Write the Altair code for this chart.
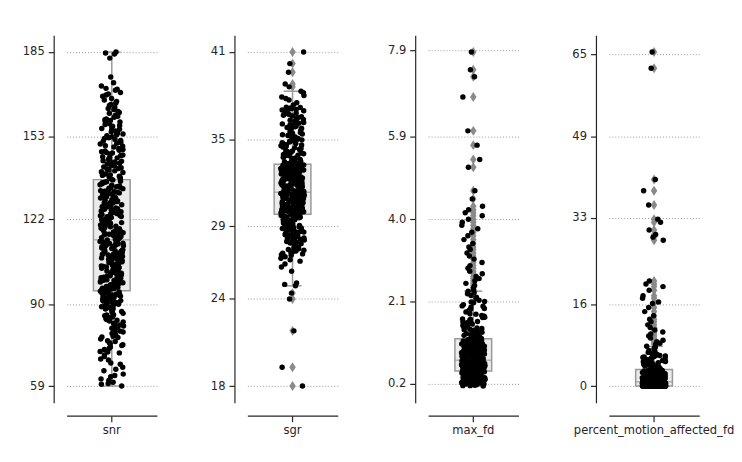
"""Box + strip plot delle metriche di qualità, un pannello per metrica."""

import altair as alt
import pandas as pd

# Valori (stime per punto)
SNR = [
    59.1, 59.8, 60.5, 61.2, 62.6, 63.1, 64.9, 65.4, 67.8, 69.3,
    70.2, 71.6, 72.1, 72.9, 73.8, 74.4, 75.0, 75.9, 76.2, 77.4,
    77.9, 78.6, 79.3, 79.8, 80.4, 80.9, 81.7, 82.1, 82.8, 83.3,
    83.9, 84.2, 84.9, 85.6, 86.0, 86.5, 87.2, 87.7, 88.1, 88.6,
    89.0, 89.5, 89.9, 90.2, 90.5, 90.7, 90.9, 91.1, 91.4, 91.6,
    91.8, 92.0, 92.3, 92.5, 92.8, 93.2, 93.5, 93.7, 93.9, 94.0,
    94.2, 94.6, 94.8, 95.1, 95.4, 95.9, 96.3, 96.5, 96.8, 97.1,
    97.4, 97.8, 98.0, 98.6, 98.9, 99.0, 99.3, 99.5, 99.9, 100.4,
    100.7, 101.1, 101.3, 101.6, 101.9, 102.2, 102.8, 103.1, 103.5, 103.8,
    104.2, 104.6, 104.9, 105.2, 105.5, 105.9, 106.1, 106.3, 106.6, 107.0,
    107.4, 107.7, 107.9, 108.1, 108.3, 108.5, 108.8, 109.2, 109.4, 109.9,
    110.1, 110.3, 110.5, 110.9, 111.2, 111.4, 111.6, 111.9, 112.0, 112.3,
    112.6, 112.9, 113.3, 113.6, 113.9, 114.2, 114.6, 115.0, 115.3, 115.8,
    116.1, 116.5, 116.9, 117.2, 117.4, 117.7, 118.0, 118.4, 118.8, 119.1,
    119.6, 119.9, 120.3, 120.7, 121.0, 121.5, 121.8, 122.2, 122.6, 123.0,
    123.3, 123.8, 124.1, 124.5, 124.8, 125.1, 125.5, 125.9, 126.2, 126.7,
    127.0, 127.4, 127.8, 128.1, 128.4, 128.6, 128.9, 129.3, 129.7, 130.0,
    130.4, 130.8, 131.2, 131.5, 131.7, 131.9, 132.3, 132.7, 133.0, 133.5,
    133.8, 134.2, 134.5, 135.0, 135.3, 135.7, 136.1, 136.8, 137.3, 137.9,
    138.2, 138.7, 139.3, 139.6, 140.2, 140.8, 141.1, 141.7, 142.2, 142.5,
    143.1, 143.3, 143.6, 144.0, 144.6, 145.1, 145.5, 146.2, 146.6, 147.1,
    147.7, 148.0, 148.6, 149.2, 149.7, 150.3, 150.9, 151.4, 152.0, 152.7,
    153.1, 153.8, 154.4, 154.9, 155.6, 156.2, 156.8, 157.3, 158.0, 158.6,
    159.2, 159.8, 160.4, 161.2, 161.9, 162.6, 163.3, 164.1, 164.8, 165.7,
    166.4, 167.5, 168.3, 169.2, 170.6, 171.3, 172.2, 175.6, 182.7, 184.6,
    185.0,
    60.1, 61.8, 63.6, 66.2, 67.3, 68.9, 70.8, 71.9, 73.3, 74.7,
    75.4, 76.8, 77.6, 78.9, 79.5, 80.6, 81.2, 82.5, 83.6, 84.5,
    85.1, 85.9, 86.8, 87.5, 88.3, 89.2, 89.7, 90.4, 90.8, 91.3,
    91.9, 92.2, 92.6, 93.0, 93.4, 94.1, 94.4, 94.9, 95.3, 95.7,
    96.0, 96.6, 97.2, 97.6, 98.3, 98.7, 99.2, 99.7, 100.1, 100.6,
    101.0, 101.5, 102.0, 102.5, 103.0, 103.4, 104.0, 104.4, 105.0, 105.7,
    106.4, 106.9, 107.6, 108.0, 108.7, 109.1, 109.6, 110.0, 110.7, 111.1,
    111.8, 112.2, 112.8, 113.1, 113.5, 113.8, 114.4, 114.9, 115.5, 116.3,
    116.7, 117.5, 118.2, 118.6, 119.3, 119.8, 120.5, 121.2, 121.7, 122.4,
    122.9, 123.5, 124.0, 124.6, 125.3, 125.7, 126.4, 126.9, 127.6, 128.3,
    129.1, 129.5, 130.2, 130.6, 131.4, 132.1, 132.5, 133.2, 133.7, 134.0,
    134.8, 135.5, 135.9, 136.3, 137.0, 137.6, 138.5, 139.0, 139.9, 140.5,
    141.4, 142.0, 142.8, 143.8, 144.3, 145.3, 146.0, 146.9, 147.4, 148.3,
    149.5, 150.6, 151.7, 152.4, 153.4, 154.1, 155.2, 155.9, 157.0, 157.7,
    158.9, 159.5, 160.8, 162.2, 163.7, 165.2, 166.9, 168.8, 169.7, 171.0,
    173.4, 184.2,
]

SGR = [
    18.0, 19.3, 21.8, 24.0, 24.4, 24.9, 25.0, 25.1, 25.9, 26.2,
    26.4, 26.6, 26.8, 26.9, 27.0, 27.1, 27.2, 27.3, 27.4, 27.45,
    27.5, 27.6, 27.7, 27.8, 27.9, 28.0, 28.05, 28.1, 28.15, 28.2,
    28.3, 28.35, 28.4, 28.5, 28.55, 28.6, 28.65, 28.7, 28.75, 28.8,
    28.85, 28.9, 28.95, 29.0, 29.05, 29.1, 29.15, 29.2, 29.22, 29.3,
    29.35, 29.4, 29.42, 29.45, 29.5, 29.55, 29.58, 29.6, 29.63, 29.66,
    29.7, 29.72, 29.75, 29.78, 29.8, 29.82, 29.84, 29.87, 29.9, 29.92,
    29.95, 29.97, 30.0, 30.03, 30.05, 30.07, 30.1, 30.12, 30.15, 30.17,
    30.2, 30.22, 30.25, 30.28, 30.3, 30.33, 30.35, 30.38, 30.4, 30.43,
    30.45, 30.47, 30.5, 30.52, 30.55, 30.57, 30.6, 30.63, 30.65, 30.68,
    30.7, 30.72, 30.75, 30.78, 30.8, 30.82, 30.85, 30.87, 30.9, 30.93,
    30.95, 30.97, 31.0, 31.02, 31.04, 31.07, 31.1, 31.12, 31.14, 31.17,
    31.2, 31.22, 31.24, 31.26, 31.28, 31.29, 31.3, 31.3, 31.31, 31.32,
    31.35, 31.38, 31.4, 31.43, 31.46, 31.5, 31.52, 31.55, 31.58, 31.6,
    31.64, 31.67, 31.7, 31.73, 31.76, 31.8, 31.83, 31.86, 31.9, 31.93,
    31.96, 32.0, 32.03, 32.06, 32.1, 32.13, 32.16, 32.2, 32.23, 32.26,
    32.3, 32.33, 32.36, 32.4, 32.43, 32.46, 32.5, 32.53, 32.56, 32.6,
    32.63, 32.66, 32.7, 32.72, 32.75, 32.78, 32.8, 32.83, 32.86, 32.88,
    32.9, 32.93, 32.95, 32.98, 33.0, 33.03, 33.05, 33.08, 33.1, 33.13,
    33.15, 33.18, 33.2, 33.22, 33.25, 33.3, 33.4, 33.45, 33.5, 33.55,
    33.6, 33.65, 33.7, 33.8, 33.85, 33.9, 33.95, 34.0, 34.1, 34.15,
    34.2, 34.25, 34.3, 34.4, 34.5, 34.55, 34.6, 34.65, 34.7, 34.8,
    34.9, 35.0, 35.05, 35.1, 35.2, 35.3, 35.4, 35.45, 35.5, 35.6,
    35.7, 35.8, 35.85, 35.9, 36.0, 36.1, 36.2, 36.25, 36.3, 36.4,
    36.5, 36.6, 36.65, 36.7, 36.8, 36.9, 37.0, 37.1, 37.15, 37.2,
    37.5, 37.7, 37.9, 38.0, 38.2, 38.3, 38.6, 38.8, 39.6, 40.2,
    41.0,
    26.7, 27.05, 27.15, 27.25, 27.35, 27.55, 27.65, 27.75, 27.85, 27.95,
    28.02, 28.12, 28.22, 28.27, 28.32, 28.42, 28.47, 28.58, 28.62, 28.68,
    28.72, 28.78, 28.82, 28.88, 28.92, 28.98, 29.08, 29.18, 29.28, 29.38,
    29.48, 29.65, 29.83, 29.88, 29.94, 29.99, 30.04, 30.09, 30.14, 30.19,
    30.24, 30.29, 30.34, 30.39, 30.44, 30.49, 30.54, 30.59, 30.64, 30.69,
    30.74, 30.79, 30.84, 30.89, 30.94, 30.99, 31.03, 31.06, 31.09, 31.13,
    31.16, 31.19, 31.23, 31.27, 31.29, 31.36, 31.42, 31.48, 31.54, 31.62,
    31.68, 31.75, 31.82, 31.88, 31.95, 32.02, 32.08, 32.15, 32.21, 32.28,
    32.35, 32.41, 32.48, 32.55, 32.62, 32.68, 32.74, 32.79, 32.85, 32.91,
    32.96, 33.01, 33.06, 33.11, 33.16, 33.19, 33.21, 33.24, 33.35, 33.48,
    33.62, 33.75, 33.88, 34.05, 34.18, 34.35, 34.45, 34.62, 34.75, 34.85,
    34.95, 35.15, 35.25, 35.35, 35.55, 35.65, 35.75, 35.95, 36.05, 36.15,
    36.35, 36.45, 36.55, 36.75, 36.85, 36.95, 37.05, 37.18, 37.35, 37.8,
]

MAX_FD = [
    0.15, 0.16, 0.17, 0.18, 0.19, 0.19, 0.2, 0.2, 0.21, 0.21,
    0.22, 0.22, 0.23, 0.23, 0.24, 0.24, 0.25, 0.26, 0.26, 0.27,
    0.27, 0.28, 0.28, 0.29, 0.29, 0.3, 0.3, 0.31, 0.31, 0.32,
    0.32, 0.33, 0.33, 0.33, 0.34, 0.34, 0.35, 0.35, 0.36, 0.36,
    0.36, 0.37, 0.37, 0.38, 0.38, 0.38, 0.39, 0.39, 0.4, 0.4,
    0.41, 0.41, 0.41, 0.42, 0.42, 0.42, 0.43, 0.43, 0.43, 0.44,
    0.44, 0.44, 0.45, 0.45, 0.45, 0.46, 0.46, 0.46, 0.47, 0.47,
    0.47, 0.47, 0.48, 0.48, 0.48, 0.49, 0.49, 0.49,
    0.5, 0.5, 0.5, 0.51, 0.51, 0.51, 0.52, 0.52, 0.52, 0.52,
    0.53, 0.53, 0.53, 0.54, 0.54, 0.54, 0.55, 0.55, 0.55, 0.56,
    0.56, 0.56, 0.57, 0.57, 0.57, 0.58, 0.58, 0.58, 0.59, 0.59,
    0.59, 0.6, 0.6, 0.6, 0.6, 0.61, 0.61, 0.61, 0.62, 0.62,
    0.62, 0.63, 0.63, 0.63, 0.64, 0.64, 0.64, 0.65, 0.65, 0.65,
    0.66, 0.66, 0.66, 0.66, 0.67, 0.67, 0.67, 0.68, 0.68, 0.68,
    0.69, 0.69, 0.69, 0.7, 0.7, 0.7, 0.71, 0.71, 0.71, 0.72,
    0.72, 0.72, 0.73, 0.73, 0.73, 0.73, 0.74, 0.74,
    0.75, 0.76, 0.76, 0.77, 0.77, 0.78, 0.79, 0.79, 0.8, 0.81,
    0.81, 0.82, 0.83, 0.83, 0.84, 0.84, 0.85, 0.85, 0.86, 0.87,
    0.87, 0.88, 0.89, 0.89, 0.9, 0.9, 0.91, 0.92, 0.92, 0.93,
    0.93, 0.94, 0.95, 0.95, 0.96, 0.97, 0.97, 0.98, 0.99, 0.99,
    1.0, 1.0, 1.01, 1.01, 1.02, 1.03, 1.03, 1.04, 1.05, 1.05,
    1.06, 1.07, 1.07, 1.08, 1.09, 1.09, 1.1, 1.11, 1.11, 1.12,
    1.13, 1.13, 1.14, 1.15, 1.15, 1.16, 1.17, 1.17, 1.18, 1.19,
    1.19, 1.2, 1.21, 1.21, 1.22, 1.22, 1.23, 1.24,
    1.26, 1.29, 1.31, 1.33, 1.34, 1.37, 1.4, 1.43, 1.45, 1.46,
    1.49, 1.52, 1.55, 1.58, 1.6, 1.61, 1.64, 1.67, 1.7, 1.74,
    1.76, 1.78, 1.82, 1.86, 1.9, 1.92, 1.94, 1.97, 2.0, 2.03,
    2.07, 2.1, 2.13, 2.17, 2.2, 2.24, 2.28, 2.31, 2.34, 2.37,
    2.42, 2.47, 2.52, 2.58, 2.63, 2.68, 2.74, 2.8, 2.87, 2.93,
    3.0, 3.08, 3.15, 3.22, 3.3, 3.36, 3.44, 3.53, 3.62, 3.7,
    3.78, 3.86, 3.93, 4.0, 4.08, 4.15, 4.22, 4.3, 4.47, 4.66,
    5.2, 5.38, 5.71, 6.04, 6.82, 7.29, 7.45, 7.86,
    0.16, 0.18, 0.2, 0.22, 0.24, 0.25, 0.27, 0.29, 0.31, 0.34,
    0.37, 0.4, 0.43, 0.45, 0.47, 0.48, 0.5, 0.52, 0.53, 0.55,
    0.57, 0.58, 0.6, 0.61, 0.63, 0.65, 0.66, 0.68, 0.69, 0.71,
    0.72, 0.74, 0.77, 0.8, 0.83, 0.86, 0.89, 0.92, 0.95, 0.98,
    1.02, 1.05, 1.08, 1.12, 1.15, 1.18, 1.21, 1.23, 1.25, 1.28,
    1.32, 1.36, 1.39, 1.42, 1.48, 1.51, 1.57, 1.63, 1.69, 1.73,
    1.81, 1.88, 1.99, 2.09,
]

PCT_MOTION = [
    0, 0, 0, 0, 0, 0, 0, 0, 0, 0, 0, 0, 0, 0, 0, 0, 0, 0, 0, 0,
    0, 0, 0, 0, 0, 0, 0, 0, 0, 0, 0, 0, 0, 0, 0, 0, 0, 0, 0, 0,
    0, 0, 0, 0, 0, 0, 0, 0, 0, 0, 0, 0, 0, 0, 0, 0, 0, 0, 0, 0,
    0, 0, 0, 0, 0, 0, 0, 0, 0, 0, 0, 0, 0, 0, 0, 0, 0, 0, 0, 0,
    0.05, 0.08, 0.1, 0.1, 0.12, 0.13, 0.15, 0.15, 0.17, 0.18,
    0.2, 0.2, 0.22, 0.23, 0.25, 0.25, 0.27, 0.28, 0.3, 0.3,
    0.32, 0.33, 0.34, 0.35, 0.35, 0.37, 0.38, 0.4, 0.4, 0.42,
    0.43, 0.44, 0.45, 0.45, 0.46, 0.47, 0.48, 0.5, 0.5, 0.5,
    0.51, 0.52, 0.53, 0.55, 0.55, 0.56, 0.57, 0.58, 0.59, 0.6,
    0.6, 0.6, 0.61, 0.62, 0.63, 0.65, 0.65, 0.66, 0.67, 0.68,
    0.69, 0.7, 0.7, 0.7, 0.71, 0.72, 0.73, 0.74, 0.75, 0.75,
    0.76, 0.77, 0.78, 0.79, 0.8, 0.8,
    0.85, 0.88, 0.9, 0.92, 0.95, 0.97, 1.0, 1.0, 1.05, 1.08,
    1.1, 1.15, 1.18, 1.2, 1.25, 1.28, 1.3, 1.35, 1.38, 1.4,
    1.45, 1.48, 1.5, 1.5, 1.55, 1.58, 1.6, 1.65, 1.68, 1.7,
    1.75, 1.78, 1.8, 1.85, 1.88, 1.9, 1.95, 1.98, 2.0, 2.0,
    2.05, 2.08, 2.1, 2.15, 2.18, 2.2, 2.25, 2.28, 2.3, 2.35,
    2.38, 2.4, 2.45, 2.48, 2.5, 2.5, 2.55, 2.58, 2.6, 2.65,
    2.68, 2.7, 2.75, 2.78, 2.8, 2.85, 2.88, 2.9, 2.95, 2.98,
    3.0, 3.0, 3.05, 3.08, 3.1, 3.15, 3.18, 3.2,
    3.3, 3.4, 3.5, 3.55, 3.6, 3.7, 3.8, 3.9, 3.95, 4.0,
    4.1, 4.2, 4.3, 4.35, 4.4, 4.5, 4.6, 4.7, 4.75, 4.8,
    4.9, 5.0, 5.1, 5.2, 5.25, 5.3, 5.4, 5.5, 5.6, 5.7,
    5.8, 5.9, 6.0, 6.1, 6.2, 6.4, 6.6, 6.8, 7.0, 7.2,
    7.4, 7.6, 7.8,
    8.2, 8.4, 8.7, 9.0, 9.4, 9.8, 10.2, 10.6, 11.0, 11.5,
    12.0, 12.6, 13.1, 13.8, 14.6, 15.4, 16.2, 16.5, 17.2, 17.7,
    18.8, 19.5, 20.0, 20.6, 28.6, 29.2, 29.7, 30.6, 32.1, 32.7,
    35.5, 38.3, 40.5, 62.3, 65.5,
]

SNR_TICKS = [59, 90, 122, 153, 185]
SGR_TICKS = [18, 24, 29, 35, 41]
MAX_FD_TICKS = [0.2, 2.1, 4.0, 5.9, 7.9]
PCT_TICKS = [0, 16, 33, 49, 65]

INK = "#262626"
GREY = "#999999"
# rombo stretto, come il marker "d" di matplotlib
THIN_DIAMOND = "M0,-1L0.65,0L0,1L-0.65,0Z"
# jitter deterministico (hash dell'indice), ampiezza ±0.13 della banda
JITTER = "(abs(sin(datum.i * 12.9898) * 43758.5453) % 1 - 0.5) * 0.26"


def panel(name: str, values: list, ticks: list, fmt: str) -> alt.LayerChart:
    """Boxplot grigio con i singoli punti sovrapposti (jitter orizzontale)."""
    df = pd.DataFrame({"metric": name, "value": values})
    lo, hi = min(values), max(values)
    margin = 0.05 * (hi - lo)

    x = alt.X(
        "metric:N",
        title=None,
        scale=alt.Scale(paddingInner=0, paddingOuter=0),
        axis=alt.Axis(labelAngle=0, offset=13, tickSize=6, labelPadding=3, grid=False),
    )
    y = alt.Y(
        "value:Q",
        title=None,
        scale=alt.Scale(domain=[lo - margin, hi + margin], nice=False, zero=False),
        axis=alt.Axis(
            values=ticks, format=fmt, offset=13, tickSize=5.5, labelPadding=4,
            minExtent=34, grid=True, gridDash=[1, 2], gridColor="#9a9a9a", gridWidth=1,
        ),
    )

    box = alt.Chart(df).mark_boxplot(
        size=37,
        extent=1.5,
        box={"color": "#ebebeb", "stroke": GREY, "strokeWidth": 1.5},
        median={"color": GREY, "thickness": 1.5},
        rule={"color": GREY, "strokeWidth": 1.5},
        ticks={"color": GREY, "size": 18, "thickness": 1.5},
        outliers={"shape": THIN_DIAMOND, "size": 100, "color": "#8a8a8a",
                  "filled": True, "opacity": 1},
    ).encode(x=x, y=y)

    dots = (
        alt.Chart(df)
        .transform_window(i="row_number()")
        .transform_calculate(jit=JITTER)
        .mark_circle(size=30, color="black", opacity=1)
        .encode(
            x=x,
            y=y,
            xOffset=alt.XOffset("jit:Q", scale=alt.Scale(domain=[-0.5, 0.5])),
        )
    )
    return (box + dots).properties(width=91, height=370)


chart = (
    alt.hconcat(
        panel("snr", SNR, SNR_TICKS, "d"),
        panel("sgr", SGR, SGR_TICKS, "d"),
        panel("max_fd", MAX_FD, MAX_FD_TICKS, ".1f"),
        panel("percent_motion_affected_fd", PCT_MOTION, PCT_TICKS, "d"),
        spacing=44,
    )
    .properties(padding={"left": 12, "top": 26, "right": 0, "bottom": 0})
    .configure_view(strokeWidth=0)
    .configure_axis(
        labelFont="DejaVu Sans", labelFontSize=11.6, labelColor=INK,
        domainColor=INK, domainWidth=1.2, tickColor=INK, tickWidth=1.2,
    )
)

chart.save("out.html", embed_options={"renderer": "svg", "actions": False})
